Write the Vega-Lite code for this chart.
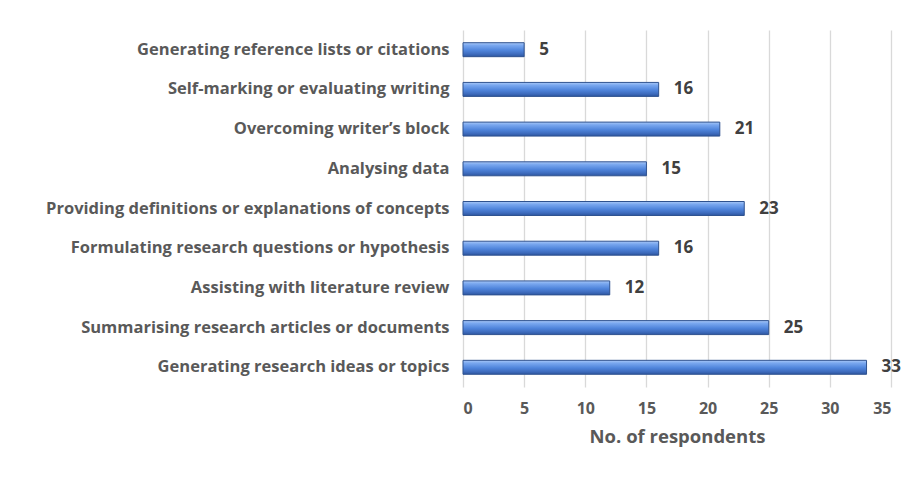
{
  "$schema": "https://vega.github.io/schema/vega-lite/v6.json",
  "autosize": {"type": "none"},
  "width": 428,
  "height": 357,
  "padding": {"left": 463, "top": 30, "right": 23, "bottom": 97},
  "background": "white",
  "config": {
    "view": {"stroke": null},
    "font": "Open Sans",
    "axis": {
      "labelFont": "Open Sans",
      "labelFontWeight": "bold",
      "labelColor": "#595959",
      "titleFont": "Open Sans",
      "titleFontWeight": "bold",
      "titleColor": "#595959"
    }
  },
  "data": {
    "values": [
      {"use": "Generating reference lists or citations", "respondents": 5},
      {"use": "Self-marking or evaluating writing", "respondents": 16},
      {"use": "Overcoming writer’s block", "respondents": 21},
      {"use": "Analysing data", "respondents": 15},
      {"use": "Providing definitions or explanations of concepts", "respondents": 23},
      {"use": "Formulating research questions or hypothesis", "respondents": 16},
      {"use": "Assisting with literature review", "respondents": 12},
      {"use": "Summarising research articles or documents", "respondents": 25},
      {"use": "Generating research ideas or topics", "respondents": 33}
    ]
  },
  "encoding": {
    "y": {
      "field": "use",
      "type": "nominal",
      "sort": null,
      "scale": {"paddingInner": 0.648, "paddingOuter": 0.32},
      "axis": {
        "title": null,
        "domain": false,
        "ticks": false,
        "labelFontSize": 16.5,
        "labelPadding": 14,
        "labelLimit": 460
      }
    },
    "x": {
      "field": "respondents",
      "type": "quantitative",
      "scale": {"domain": [0, 35], "nice": false},
      "axis": {
        "title": "No. of respondents",
        "values": [0, 5, 10, 15, 20, 25, 30, 35],
        "domain": false,
        "ticks": false,
        "grid": true,
        "gridColor": "#d9d9d9",
        "gridWidth": 1.3,
        "labelFontSize": 16,
        "labelPadding": 13,
        "titleFontSize": 18.5,
        "titlePadding": 11
      }
    }
  },
  "layer": [
    {
      "mark": {
        "type": "bar",
        "stroke": "#2f528f",
        "strokeWidth": 1,
        "color": {
          "gradient": "linear",
          "x1": 0, "y1": 0, "x2": 0, "y2": 1,
          "stops": [
            {"offset": 0, "color": "#a9c8f7"},
            {"offset": 0.2, "color": "#79a7ef"},
            {"offset": 0.55, "color": "#4f84db"},
            {"offset": 0.8, "color": "#3f6dbf"},
            {"offset": 1, "color": "#2d56a0"}
          ]
        }
      }
    },
    {
      "mark": {
        "type": "text",
        "align": "left",
        "baseline": "middle",
        "dx": 15,
        "font": "Open Sans",
        "fontWeight": "bold",
        "fontSize": 17,
        "color": "#404040"
      },
      "encoding": {"text": {"field": "respondents", "type": "quantitative"}}
    }
  ]
}
